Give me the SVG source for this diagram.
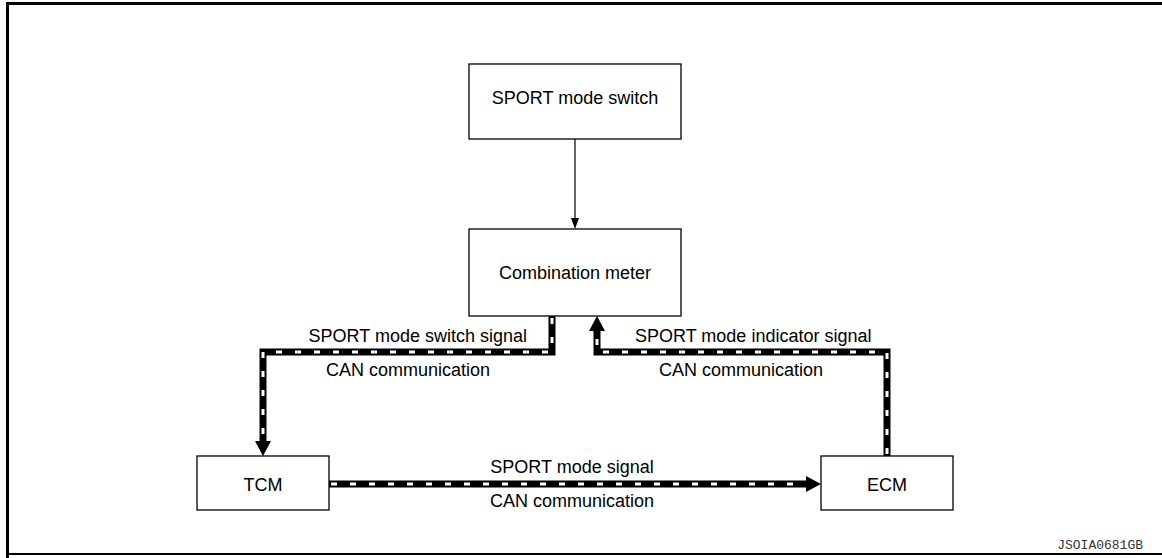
<svg xmlns="http://www.w3.org/2000/svg" width="1162" height="558" viewBox="0 0 1162 558">
<style>
.box{fill:#fff;stroke:#000;stroke-width:1.3}
.t{font-family:"Liberation Sans",Arial,sans-serif;font-size:18px;fill:#000}
.c{text-anchor:middle}
.can{fill:none;stroke:#000;stroke-width:7;stroke-linejoin:miter}
.dash{fill:none;stroke:#fff;stroke-width:3;stroke-dasharray:6 13}
.thin{fill:none;stroke:#000;stroke-width:1.2}
</style>
<rect width="1162" height="558" fill="#fff"/>
<g id="frame" fill="none" stroke="#000">
<path d="M7.5,558 V3.5 H1162" stroke-width="3"/>
<path d="M6,554 H1162" stroke-width="2"/>
</g>
<g id="connectors">
<path class="thin" d="M575,139 V219"/>
<polygon points="571,218 579,218 575,229" fill="#000"/>
<path class="can" d="M552,316 V352 H263 V442"/>
<path class="dash" d="M552,318 V352 H263 V442"/>
<polygon points="255,441 271,441 263,456" fill="#000"/>
<path class="can" d="M887,456 V352 H597 V330"/>
<path class="dash" d="M887,454 V352 H597 V330"/>
<polygon points="589,331 605,331 597,316" fill="#000"/>
<path class="can" d="M329,484 H807"/>
<path class="dash" d="M331,484 H807"/>
<polygon points="806,476 806,492 821,484" fill="#000"/>
</g>
<g id="labels">
<text class="t" x="527" y="342" text-anchor="end">SPORT mode switch signal</text>
<text class="t c" x="408" y="376">CAN communication</text>
<text class="t" x="635" y="342">SPORT mode indicator signal</text>
<text class="t c" x="741" y="376">CAN communication</text>
<text class="t c" x="572" y="473">SPORT mode signal</text>
<text class="t c" x="572" y="507">CAN communication</text>
</g>
<g id="sport-switch">
<rect class="box" x="469" y="64" width="212" height="75"/>
<text class="t c" x="575" y="104">SPORT mode switch</text>
</g>
<g id="combination-meter">
<rect class="box" x="469" y="229" width="212" height="87"/>
<text class="t c" x="575" y="279">Combination meter</text>
</g>
<g id="tcm">
<rect class="box" x="197" y="456" width="132" height="54"/>
<text class="t c" x="263" y="491">TCM</text>
</g>
<g id="ecm">
<rect class="box" x="821" y="456" width="132" height="54"/>
<text class="t c" x="887" y="491">ECM</text>
</g>
<text x="1143" y="549" text-anchor="end" font-family="'Liberation Mono','Courier New',monospace" font-size="13" fill="#333">JSOIA0681GB</text>
</svg>
